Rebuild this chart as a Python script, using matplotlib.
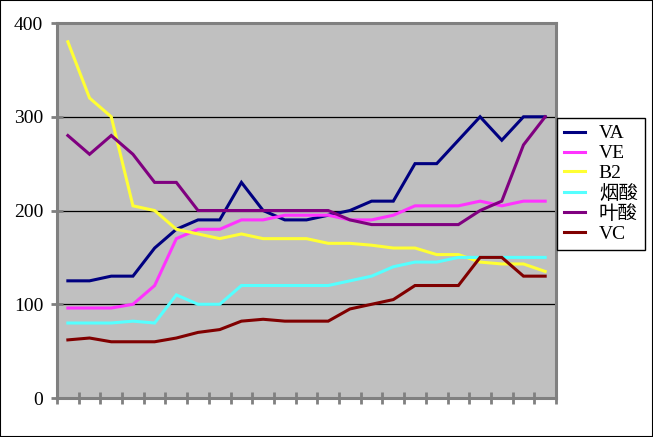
import matplotlib
matplotlib.use("Agg")
import matplotlib.pyplot as plt
from matplotlib.patches import Rectangle

# values (23 categories, no x labels)
va = [125, 125, 130, 130, 160, 180, 190, 190, 230, 200, 190, 190, 195, 200, 210, 210, 250, 250, 275, 300, 275, 300, 300]
ve = [96, 96, 96, 100, 120, 170, 180, 180, 190, 190, 195, 195, 195, 190, 190, 195, 205, 205, 205, 210, 205, 210, 210]
b2 = [380, 320, 300, 205, 200, 180, 175, 170, 175, 170, 170, 170, 165, 165, 163, 160, 160, 153, 153, 145, 143, 143, 135]
niacin = [80, 80, 80, 82, 80, 110, 100, 100, 120, 120, 120, 120, 120, 125, 130, 140, 145, 145, 150, 150, 150, 150, 150]
folic = [280, 260, 280, 260, 230, 230, 200, 200, 200, 200, 200, 200, 200, 190, 185, 185, 185, 185, 185, 200, 210, 270, 300]
vc = [62, 64, 60, 60, 60, 64, 70, 73, 82, 84, 82, 82, 82, 95, 100, 105, 120, 120, 120, 150, 150, 130, 130]

names = ["VA", "VE", "B2", "烟酸", "叶酸", "VC"]
colors = ["#000080", "#FF33FF", "#FFFF33", "#55FFFF", "#800080", "#800000"]
y_ticks = [0, 100, 200, 300, 400]

fig = plt.figure(figsize=(6.53, 4.37), dpi=100)
ax = fig.add_axes([0.0873, 0.0892, 0.7642, 0.8581])
ax.set_facecolor("#C0C0C0")

x = [i + 0.5 for i in range(len(va))]
series = [va, ve, b2, niacin, folic, vc]
handles = []
for vals, name, c in zip(series, names, colors):
    ln, = ax.plot(x, vals, color=c, lw=2.2, label=name, solid_joinstyle="miter", zorder=3)
    handles.append(ln)

ax.set_xlim(0, len(va))
ax.set_ylim(0, 400)
ax.set_xticks(range(len(va) + 1))
ax.set_xticklabels([])
ax.set_yticks(y_ticks)
ax.set_yticklabels([str(t) for t in y_ticks], fontsize=14, family="Liberation Serif")
ax.tick_params(axis="both", direction="inout", length=8, width=2, color="#808080")
ax.tick_params(axis="y", pad=6)
for t in [100, 200, 300]:
    ax.axhline(t, color="black", lw=0.9, zorder=1)
for s in ax.spines.values():
    s.set_color("#808080")
    s.set_linewidth(2.2)

leg = fig.legend(handles=handles, loc="upper left", bbox_to_anchor=(0.853, 0.73),
                 frameon=True, fancybox=False, edgecolor="black", framealpha=1,
                 prop={"family": ["Liberation Serif", "Noto Sans CJK SC"], "size": 14},
                 handlelength=1.1, handletextpad=0.7, labelspacing=0.12,
                 borderpad=0.35, borderaxespad=0)
leg.get_frame().set_linewidth(1.0)
leg._legend_box.align = "left"

# thin black border around the whole picture
fig.patches.append(Rectangle((0, 0), 1, 1, transform=fig.transFigure, fill=False,
                             edgecolor="black", lw=1.5))

fig.savefig("out.png", dpi=100)
